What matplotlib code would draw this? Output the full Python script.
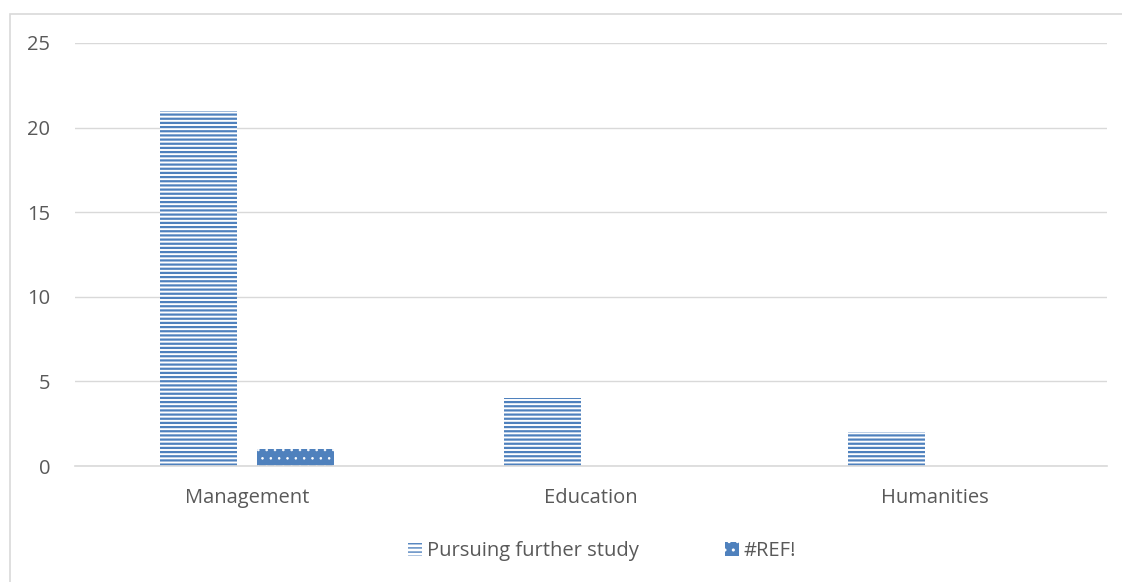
import matplotlib.pyplot as plt
import numpy as np
from matplotlib.patches import Rectangle

categories = ["Management", "Education", "Humanities"]
further_study = [21, 4, 2]
ref_err = [1, 0, 0]
series_names = ["Pursuing further study", "#REF!"]
yticks = [0, 5, 10, 15, 20, 25]

blue = "#4f81bd"
grid_col = "#d9d9d9"
text_col = "#595959"

plt.rcParams['font.family'] = ['Open Sans', 'DejaVu Sans']

fig = plt.figure(figsize=(11.22, 5.82), dpi=100)
# chart frame, only top and left edges show in the picture
fig.patches.append(Rectangle((10/1122, -0.1), 1.2, 0.1 + (582-14)/582, transform=fig.transFigure,
                             fill=False, edgecolor=grid_col, linewidth=1.2))
ax = fig.add_axes([75/1122, (582-466)/582, (1107-75)/1122, (466-43)/582])

x = np.arange(len(categories))
w = 0.224
with plt.rc_context({'hatch.linewidth': 1.6}):
    ax.bar(x - 0.141, further_study, w, facecolor="white", edgecolor=blue,
           hatch="----", linewidth=0, label=series_names[0])
with plt.rc_context({'hatch.linewidth': 0.6}):
    ax.bar(x + 0.141, ref_err, w, facecolor=blue, edgecolor="white",
           hatch="..", linewidth=0, label=series_names[1])

ax.set_xlim(-0.5, 2.5)
ax.set_ylim(0, 25)
ax.set_yticks(yticks)
ax.set_xticks(x)
ax.set_xticklabels(categories)
ax.yaxis.grid(True, color=grid_col, linewidth=1)
ax.set_axisbelow(True)
for s in ["top", "right", "left"]:
    ax.spines[s].set_visible(False)
ax.spines["bottom"].set_color(grid_col)
ax.spines["bottom"].set_linewidth(1.2)
ax.tick_params(axis="both", length=0, labelsize=14.5, colors=text_col)
ax.tick_params(axis="x", pad=16)
ax.tick_params(axis="y", pad=18)

leg = ax.legend(loc="center", ncol=2, frameon=False, fontsize=14.5,
                handlelength=0.7, handleheight=0.7, columnspacing=4.3,
                handletextpad=0.2, labelcolor=text_col)
leg.set_bbox_to_anchor((602/1122, 31/582), transform=fig.transFigure)

fig.savefig("out.png", dpi=100)
